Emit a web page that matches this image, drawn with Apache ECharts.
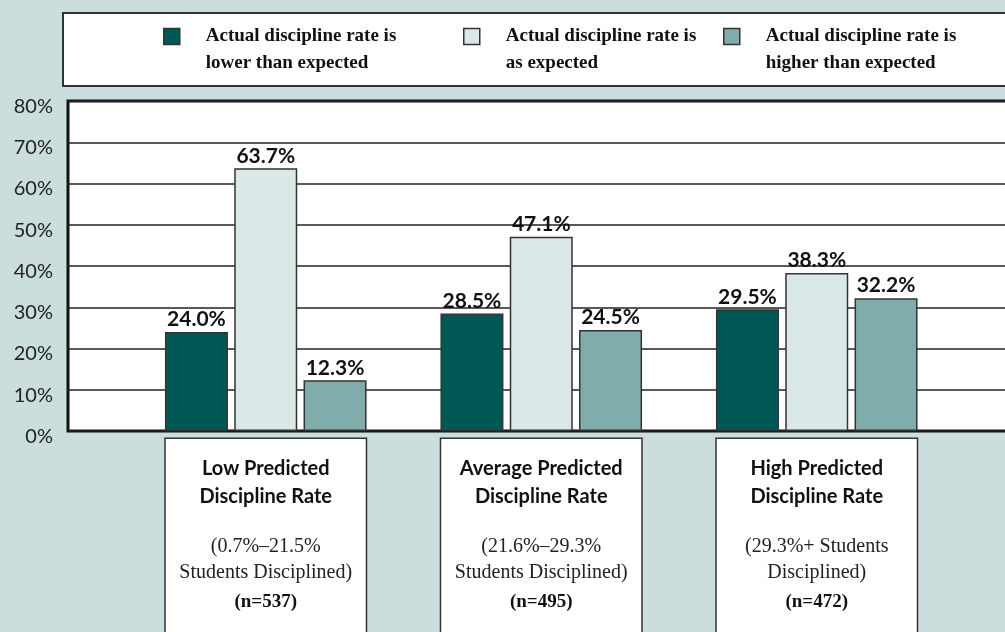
<!DOCTYPE html>
<html>
<head>
<meta charset="utf-8">
<script src="https://cdn.jsdelivr.net/npm/echarts@6/dist/echarts.min.js"></script>
<style>
  html, body { margin: 0; padding: 0; background: #cbdddd; }
  #chart { width: 1005px; height: 632px; }
</style>
</head>
<body>
<div id="chart"></div>
<script>
  // chart data
  const categories = ['Low Predicted\nDiscipline Rate', 'Average Predicted\nDiscipline Rate', 'High Predicted\nDiscipline Rate']
  const ranges = ['(0.7%–21.5%\nStudents Disciplined)', '(21.6%–29.3%\nStudents Disciplined)', '(29.3%+ Students\nDisciplined)']
  const sampleSizes = ['(n=537)', '(n=495)', '(n=472)']
  const seriesNames = [
    'Actual discipline rate is\nlower than expected',
    'Actual discipline rate is\nas expected',
    'Actual discipline rate is\nhigher than expected'
  ]
  const lowerThanExpected = [24.0, 28.5, 29.5]
  const asExpected = [63.7, 47.1, 38.3]
  const higherThanExpected = [12.3, 24.5, 32.2]
  const yMin = 0
  const yMax = 80
  const yStep = 10

  const colors = ['#005856', '#dbe8e8', '#80adab']
  const legendLeft = [163, 463, 723]

  const chart = echarts.init(document.getElementById('chart'))

  function categoryLabel(value, index) {
    const lines = []
    categories[index].split('\n').forEach(s => lines.push('{t|' + s + '}'))
    lines.push('{sp| }')
    ranges[index].split('\n').forEach(s => lines.push('{r|' + s + '}'))
    lines.push('{n|' + sampleSizes[index] + '}')
    return lines.join('\n')
  }

  const values = [lowerThanExpected, asExpected, higherThanExpected]
  const series = values.map((data, i) => ({
    name: seriesNames[i],
    type: 'bar',
    xAxisIndex: 1,
    yAxisIndex: 1,
    barWidth: 63,
    barGap: '10%',
    color: colors[i],
    itemStyle: { color: colors[i], borderColor: '#333', borderWidth: 1.5 },
    label: {
      show: true,
      position: 'top',
      distance: 2,
      fontFamily: 'Lato',
      fontWeight: 'bold',
      fontSize: 21,
      color: '#111',
      formatter: p => p.value.toFixed(1) + '%'
    },
    data: data
  }))

  // blank first line so the square sits beside the first text line
  const legends = seriesNames.map((name, i) => ({
    data: [name],
    left: legendLeft[i],
    top: -4,
    padding: 0,
    selectedMode: false,
    icon: 'rect',
    itemWidth: 16,
    itemHeight: 16,
    itemStyle: { borderColor: '#333', borderWidth: 1.5 },
    formatter: n => ' \n' + n,
    textStyle: {
      fontFamily: 'Liberation Serif',
      fontWeight: 'bold',
      fontSize: 19,
      lineHeight: 27,
      color: '#111',
      padding: [0, 0, 0, 21]
    }
  }))

  chart.setOption({
    backgroundColor: '#cbdddd',
    animation: false,
    graphic: [
      {
        type: 'rect',
        shape: { x: 63, y: 13, width: 960, height: 73 },
        style: { fill: '#fff', stroke: '#333', lineWidth: 2 },
        z: -1
      }
    ],
    legend: legends,
    grid: [
      {
        left: 68, right: -20, top: 101, height: 330,
        outerBoundsMode: 'none',
        show: true, backgroundColor: '#fff', borderColor: '#111', borderWidth: 3
      },
      {
        left: 128, right: 50.5, top: 101, height: 330,
        outerBoundsMode: 'none'
      }
    ],
    xAxis: [
      { type: 'value', gridIndex: 0, show: false },
      {
        type: 'category',
        gridIndex: 1,
        data: categories,
        axisLine: { show: false },
        axisTick: { show: false },
        axisLabel: {
          interval: 0,
          margin: 8,
          formatter: categoryLabel,
          backgroundColor: '#fff',
          borderColor: '#333',
          borderWidth: 1.5,
          padding: [16, 0, 0, 0],
          width: 200,
          height: 190,
          align: 'center',
          verticalAlign: 'top',
          rich: {
            t: { fontFamily: 'Lato', fontWeight: 'bold', fontSize: 20, lineHeight: 28, color: '#111' },
            sp: { fontSize: 10, lineHeight: 23 },
            r: { fontFamily: 'Liberation Serif', fontSize: 20, lineHeight: 26, color: '#222' },
            n: { fontFamily: 'Liberation Serif', fontWeight: 'bold', fontSize: 19, lineHeight: 32, color: '#111' }
          }
        }
      }
    ],
    yAxis: [
      {
        type: 'value',
        gridIndex: 0,
        min: yMin,
        max: yMax,
        interval: yStep,
        axisLine: { show: false },
        axisTick: { show: false },
        axisLabel: {
          margin: 15,
          fontFamily: 'Lato',
          fontSize: 20,
          color: '#222',
          verticalAlign: 'top',
          lineHeight: 11,
          formatter: '{value}%'
        },
        splitLine: { lineStyle: { color: '#222', width: 1.5 } }
      },
      {
        type: 'value',
        gridIndex: 1,
        min: yMin,
        max: yMax,
        interval: yStep,
        show: false,
        splitLine: { show: false }
      }
    ],
    series: series
  })
</script>
</body>
</html>
